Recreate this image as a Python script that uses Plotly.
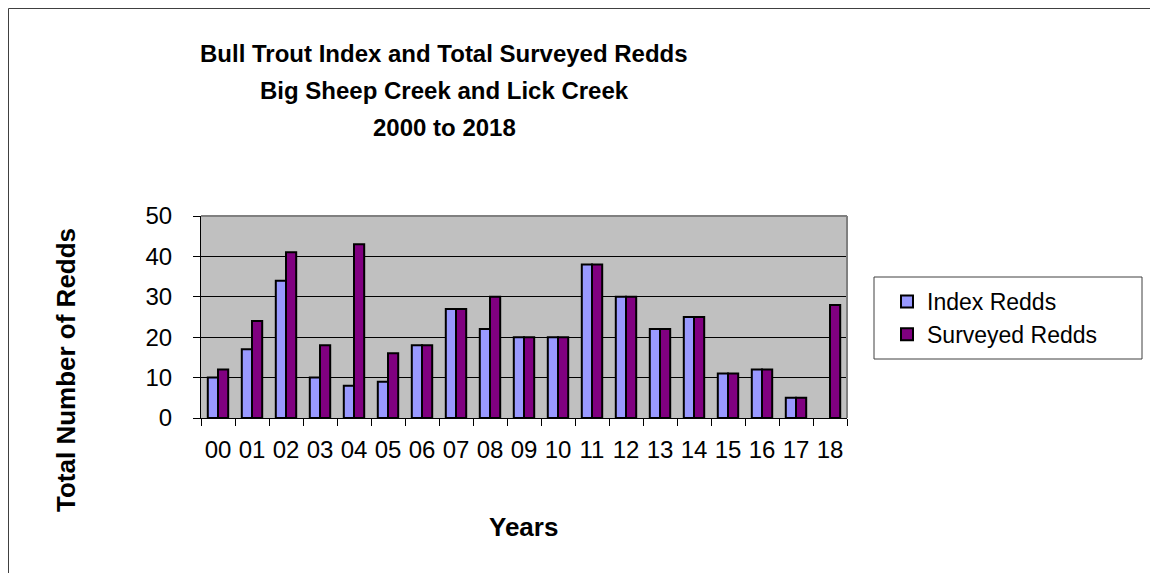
import plotly.graph_objects as go

# Redd counts by survey year (two-digit year labels)
years = ["00", "01", "02", "03", "04", "05", "06", "07", "08", "09",
         "10", "11", "12", "13", "14", "15", "16", "17", "18"]
index_redds = [10, 17, 34, 10, 8, 9, 18, 27, 22, 20,
               20, 38, 30, 22, 25, 11, 12, 5, None]
surveyed_redds = [12, 24, 41, 18, 43, 16, 18, 27, 30, 20,
                  20, 38, 30, 22, 25, 11, 12, 5, 28]
title_lines = ["Bull Trout Index and Total Surveyed Redds",
               "Big Sheep Creek and Lick Creek",
               "2000 to 2018"]

W, H = 1150, 573
PL, PR, PT, PB = 201, 847, 216, 418  # plot area edges in pixels
PW, PH = PR - PL, PB - PT


def px(x):
    return (x - PL) / PW


def py(y):
    return (PB - y) / PH


FONT = "Arial, Liberation Sans, sans-serif"

fig = go.Figure()
fig.add_trace(go.Bar(
    x=years, y=index_redds, name="Index Redds", legendgroup="a",
    marker=dict(color="#9999FF", line=dict(color="black", width=2)),
))
fig.add_trace(go.Bar(
    x=years, y=surveyed_redds, name="Surveyed Redds", legendgroup="b",
    marker=dict(color="#800080", line=dict(color="black", width=2)),
))

shapes = [
    # plot frame (top and right)
    dict(type="line", xref="paper", yref="paper", x0=0, x1=1, y0=1, y1=1,
         line=dict(color="#808080", width=2)),
    dict(type="line", xref="paper", yref="paper", x0=1, x1=1, y0=0, y1=1,
         line=dict(color="#808080", width=2)),
    # chart border
    dict(type="line", xref="paper", yref="paper", x0=px(8.5), x1=px(W + 5),
         y0=py(8.5), y1=py(8.5), line=dict(color="#404040", width=1)),
    dict(type="line", xref="paper", yref="paper", x0=px(8.5), x1=px(8.5),
         y0=py(8.5), y1=py(H + 5), line=dict(color="#404040", width=1)),
    # legend box
    dict(type="rect", xref="paper", yref="paper", x0=px(874), x1=px(1142),
         y0=py(359), y1=py(277), line=dict(color="#404040", width=1),
         fillcolor="white", layer="below"),
]

annotations = []
# three title lines, one baseline every 37 px
for i, line in enumerate(title_lines):
    annotations.append(dict(
        text="<b>%s</b>" % line, xref="paper", yref="paper",
        x=px(444), y=py(63 + 37 * i), xanchor="center", yanchor="bottom",
        yshift=-6, showarrow=False,
        font=dict(family=FONT, size=24, color="black")))
annotations += [
    dict(text="<b>Years</b>", xref="paper", yref="paper", x=px(523), y=py(527),
         xanchor="center", yanchor="middle", showarrow=False,
         font=dict(family=FONT, size=26, color="black")),
    dict(text="<b>Total Number of Redds</b>", xref="paper", yref="paper",
         x=px(66), y=py(370), textangle=-90,
         xanchor="center", yanchor="middle", showarrow=False,
         font=dict(family=FONT, size=26, color="black")),
]

fig.update_layout(
    width=W, height=H,
    margin=dict(l=PL, r=W - PR, t=PT, b=H - PB, pad=0),
    paper_bgcolor="white",
    plot_bgcolor="#C0C0C0",
    barmode="group",
    bargap=0.4,
    bargroupgap=0,
    font=dict(family=FONT, color="black"),
    showlegend=True,
    legend=dict(x=px(887), y=py(280), xanchor="left", yanchor="top",
                bgcolor="rgba(0,0,0,0)", borderwidth=0, tracegroupgap=0,
                font=dict(family=FONT, size=23, color="black"),
                traceorder="grouped"),
    shapes=shapes,
    annotations=annotations,
)

fig.update_xaxes(
    type="category", tickson="boundaries", ticks="outside", ticklen=7,
    tickcolor="black", tickwidth=1, showline=True, linecolor="black",
    linewidth=1, showgrid=False, tickfont=dict(size=24, color="black"),
    tickangle=0, ticklabelstandoff=10,
)
fig.update_yaxes(
    range=[0, 50], dtick=10, ticks="outside", ticklen=7, tickcolor="black",
    tickwidth=1, showline=True, linecolor="black", linewidth=1,
    showgrid=True, gridcolor="black", gridwidth=1, zeroline=False,
    tickfont=dict(size=24, color="black"), ticklabelstandoff=16,
)

fig.write_html("out.html")
